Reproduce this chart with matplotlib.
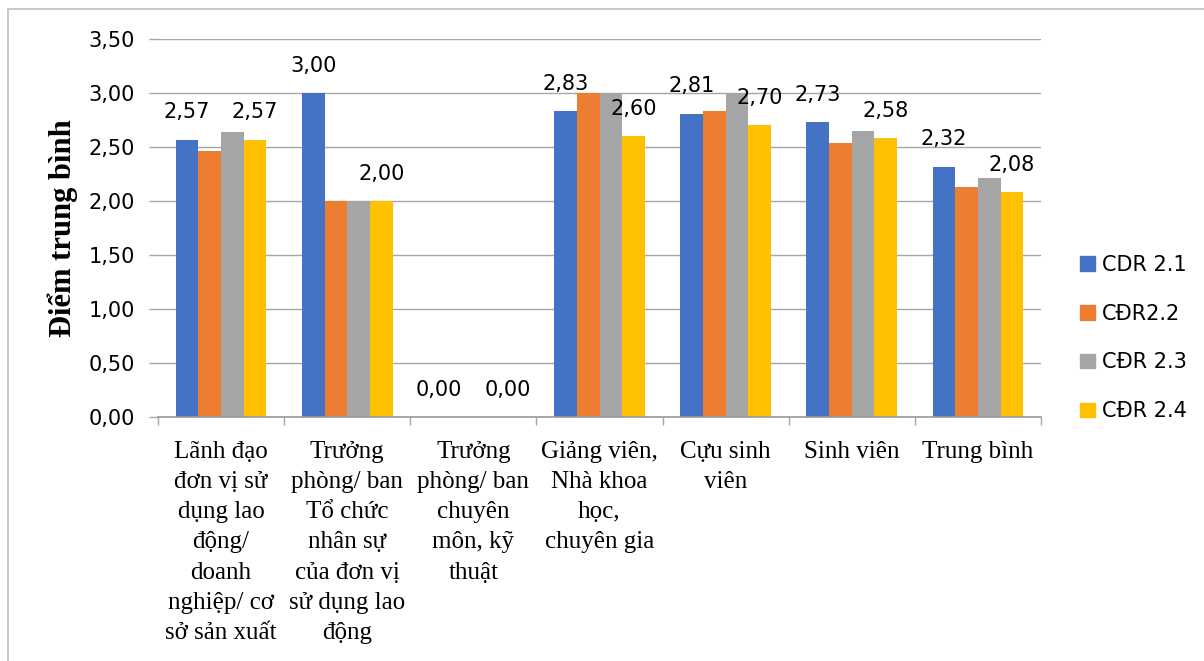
import matplotlib.pyplot as plt
import matplotlib.patches as mpatches
import numpy as np

# ── data ─────────────────────────────────────────────────────────────────────
categories = [
    "Lãnh đạo\nđơn vị sử\ndụng lao\nđộng/\ndoanh\nnghiệp/ cơ\nsở sản xuất",
    "Trưởng\nphòng/ ban\nTổ chức\nnhân sự\ncủa đơn vị\nsử dụng lao\nđộng",
    "Trưởng\nphòng/ ban\nchuyên\nmôn, kỹ\nthuật",
    "Giảng viên,\nNhà khoa\nhọc,\nchuyên gia",
    "Cựu sinh\nviên",
    "Sinh viên",
    "Trung bình",
]
series_names = ["CDR 2.1", "CĐR2.2", "CĐR 2.3", "CĐR 2.4"]
cdr_21 = [2.57, 3.00, 0.00, 2.83, 2.81, 2.73, 2.32]
cdr_22 = [2.46, 2.00, 0.00, 3.00, 2.83, 2.54, 2.13]
cdr_23 = [2.64, 2.00, 0.00, 3.00, 3.00, 2.65, 2.21]
cdr_24 = [2.57, 2.00, 0.00, 2.60, 2.70, 2.58, 2.08]
labelled = [True, False, False, True]   # only first and last series carry value labels

colors = ["#4472C4", "#ED7D31", "#A5A5A5", "#FFC000"]
grid_col = "#a6a6a6"
W, H = 1204, 661

fig = plt.figure(figsize=(W / 100, H / 100), dpi=100)
ax = fig.add_axes([158 / W, 1 - 417.3 / H, (1041 - 158) / W, (417.3 - 39) / H])

# outer chart frame (only top/left edges fall inside the image)
fig.patches.append(mpatches.Rectangle((7.5 / W, -0.1), 1.2, 1.1 - 9.5 / H,
                                      transform=fig.transFigure, fill=False,
                                      edgecolor="#bfbfbf", lw=1.2))

x = np.arange(len(categories))
bw = 0.18
all_series = [cdr_21, cdr_22, cdr_23, cdr_24]
for i, (vals, name, col) in enumerate(zip(all_series, series_names, colors)):
    pos = x + (i - 1.5) * bw
    ax.bar(pos, vals, width=bw, color=col, label=name, zorder=3)
    if labelled[i]:
        for px, v in zip(pos, vals):
            ax.annotate(f"{v:.2f}".replace(".", ","), (px, v), xytext=(0, 19.5),
                        textcoords="offset points", ha="center", va="center",
                        fontsize=15, family="DejaVu Sans", zorder=5)

ax.set_xlim(-0.5, len(categories) - 0.5)
ax.set_ylim(0, 3.5)
yt = np.arange(0, 3.51, 0.5)
ax.set_yticks(yt)
ax.set_yticklabels([f"{t:.2f}".replace(".", ",") for t in yt], fontsize=15, family="DejaVu Sans")
ax.grid(axis="y", color=grid_col, lw=1, zorder=0)
ax.tick_params(axis="y", length=6.5, color=grid_col, width=1, pad=10)

# category boundaries as major ticks, names on minor ticks at centres
ax.set_xticks(np.arange(-0.5, len(categories)))
ax.set_xticklabels([])
ax.set_xticks(x, minor=True)
ax.set_xticklabels(categories, minor=True, fontsize=18, family="Liberation Serif",
                   linespacing=1.48)
ax.tick_params(axis="x", which="major", length=6, color=grid_col, width=1)
ax.tick_params(axis="x", which="minor", length=0, pad=17)

for s in ["top", "right", "left"]:
    ax.spines[s].set_visible(False)
ax.spines["bottom"].set_color("#999999")
ax.spines["bottom"].set_linewidth(1.2)
ax.spines["bottom"].set_zorder(4)

fig.text(63 / W, 1 - 228 / H, "Điểm trung bình", rotation=90, ha="center", va="center",
         fontsize=22, fontweight="bold", family="Liberation Serif")

fig.legend(handles=[mpatches.Patch(color=c, label=n) for c, n in zip(colors, series_names)],
           loc="center left", bbox_to_anchor=(1080 / W, 1 - 338 / H), frameon=False,
           prop={"family": "DejaVu Sans", "size": 15}, handlelength=0.7, handleheight=0.7,
           handletextpad=0.35, labelspacing=1.38, borderpad=0, borderaxespad=0)

plt.savefig("out.png", dpi=100)
